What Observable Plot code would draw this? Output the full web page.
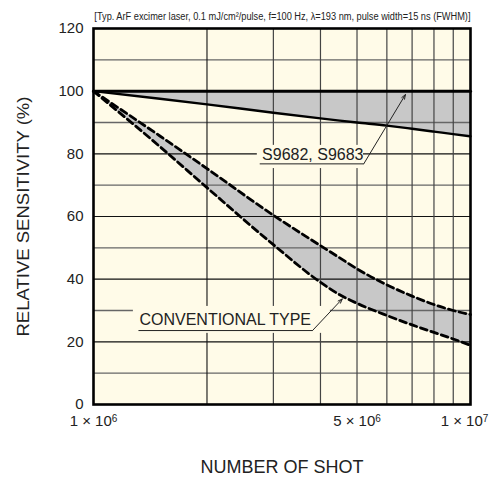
<!DOCTYPE html>
<html><head><meta charset="utf-8">
<script src="https://cdn.jsdelivr.net/npm/d3@7"></script>
<script src="https://cdn.jsdelivr.net/npm/@observablehq/plot@0.6"></script>
<style>body{margin:0;background:#fff;}</style>
</head><body><div id="chart"></div>
<script>
// ---- data ----
const shots     = [1e6, 1.5e6, 2e6, 3e6, 4e6, 4.5e6, 5e6, 6e6, 7e6, 8e6, 9e6, 1e7];
const s968Upper = [100, 100, 100, 100, 100, 100, 100, 100, 100, 100, 100, 100];
const s968Lower = [100, 97.6, 95.8, 93.1, 91.3, 90.6, 90.0, 89.0, 88.0, 87.1, 86.3, 85.6];
const convUpper = [100, 85.7, 75.3, 60.4, 50.7, 46.8, 43.3, 38.2, 34.6, 31.9, 30.0, 28.7];
const convLower = [100, 82.3, 69.2, 51.0, 39.0, 35.0, 32.3, 28.4, 25.4, 23.0, 20.9, 18.9];
const xTicks = [1e6, 5e6, 1e7];
const xTickLabels = ["1 × 10^6", "5 × 10^6", "1 × 10^7"];
const yTicks = [0, 20, 40, 60, 80, 100, 120];
const xGridMajor = [2e6];
const xGridMinor = [3e6, 4e6, 5e6, 6e6, 7e6, 8e6, 9e6];
const yGridMajor = [20, 40, 60, 80, 100];
const yGridMinor = [10, 30, 50, 70, 90, 110];
const titleText = "[Typ. ArF excimer laser, 0.1 mJ/cm²/pulse, f=100 Hz, λ=193 nm, pulse width=15 ns (FWHM)]";
const xLabel = "NUMBER OF SHOT";
const yLabel = "RELATIVE SENSITIVITY (%)";
// annotations (data coordinates)
const labelS = {text: "S9682, S9683", x: 2.8e6, y: 79.6, bx1: 2.72e6, bx2: 5.2e6, by1: 75.3, by2: 82.7,
  ux1: 2.76e6, ux2: 5.21e6, uy: 76.8, ax: 6.72e6, ay: 98.9};
const labelC = {text: "CONVENTIONAL TYPE", x: 1.324e6, y: 27.1, bx1: 1.276e6, bx2: 4.25e6, by1: 22.7, by2: 31.3,
  ux1: 1.316e6, ux2: 3.81e6, uy: 23.6, ax: 4.57e6, ay: 33.7};

const rows = shots.map((x, i) => ({x, su: s968Upper[i], sl: s968Lower[i], cu: convUpper[i], cl: convLower[i]}));
const labels = [labelS, labelC];
const cream = "#fffbe8";
const band = "#c8c8c8";
const font = "'Liberation Sans', Arial, Helvetica, sans-serif";
const tickMap = new Map(xTicks.map((t, i) => [t, xTickLabels[i]]));

const chart = Plot.plot({
  width: 492, height: 480,
  marginLeft: 93, marginRight: 22, marginTop: 28, marginBottom: 76,
  style: {fontFamily: font, background: "#fff", color: "#222"},
  x: {type: "log", domain: [1e6, 1e7], ticks: xTicks, tickFormat: d => tickMap.get(d), label: null},
  y: {domain: [0, 120], ticks: yTicks, label: null},
  marks: [
    Plot.frame({fill: cream, stroke: null}),
    Plot.areaY(rows, {x: "x", y1: "sl", y2: "su", fill: band, curve: "monotone-x"}),
    Plot.areaY(rows, {x: "x", y1: "cl", y2: "cu", fill: band, curve: "monotone-x"}),
    Plot.ruleY(yGridMinor, {stroke: "#666", strokeWidth: 1.3}),
    Plot.ruleY(yGridMajor, {stroke: "#111", strokeWidth: 1.1}),
    Plot.ruleX(xGridMinor, {stroke: "#444", strokeWidth: 1.2}),
    Plot.ruleX(xGridMajor, {stroke: "#111", strokeWidth: 1.1}),
    Plot.lineY(rows, {x: "x", y: "su", stroke: "#000", strokeWidth: 3}),
    Plot.lineY(rows, {x: "x", y: "sl", stroke: "#000", strokeWidth: 2.4, curve: "monotone-x"}),
    Plot.lineY(rows, {x: "x", y: "cu", stroke: "#000", strokeWidth: 2.8, strokeDasharray: "7,4", curve: "monotone-x"}),
    Plot.lineY(rows, {x: "x", y: "cl", stroke: "#000", strokeWidth: 2.8, strokeDasharray: "7,4", curve: "monotone-x"}),
    Plot.rect(labels, {x1: "bx1", x2: "bx2", y1: "by1", y2: "by2", fill: cream}),
    Plot.text(labels, {x: "x", y: "y", text: "text", textAnchor: "start", lineAnchor: "middle", fontSize: 16, fill: "#222"}),
    Plot.link(labels, {x1: "ux1", x2: "ux2", y1: "uy", y2: "uy", stroke: "#222", strokeWidth: 1}),
    Plot.arrow(labels, {x1: "ux2", y1: "uy", x2: "ax", y2: "ay", stroke: "#222", strokeWidth: 1, headLength: 7, headAngle: 40}),
    Plot.frame({stroke: "#000", strokeWidth: 2.6}),
    Plot.axisY({ticks: yTicks, tickSize: 0, tickPadding: 10, fontSize: 15, label: null}),
    Plot.axisX({ticks: xTicks, tickSize: 0, tickPadding: 11, fontSize: 15, label: null, tickFormat: d => tickMap.get(d)}),
    Plot.text([titleText], {frameAnchor: "top-right", dy: -12, textAnchor: "end", lineAnchor: "middle", fontSize: 11.5, fill: "#222"}),
    Plot.text([xLabel], {frameAnchor: "bottom", dy: 63, textAnchor: "middle", lineAnchor: "middle", fontSize: 18, fill: "#222"}),
    Plot.text([yLabel], {frameAnchor: "left", dx: -70, rotate: -90, textAnchor: "middle", lineAnchor: "middle", fontSize: 17, fill: "#222"})
  ]
});
document.getElementById("chart").appendChild(chart);

// horizontally scale a text element (about its anchor) so its width equals target
function fitWidth(node, target) {
  const L = node.getComputedTextLength();
  if (!L) return;
  const s = target / L;
  const ax = +node.getAttribute("x") || 0;
  const prev = node.getAttribute("transform") || "";
  node.setAttribute("transform", `${prev} translate(${ax},0) scale(${s},1) translate(${-ax},0)`);
}

d3.select(chart).selectAll("text").each(function() {
  const el = d3.select(this);
  const t = this.textContent;
  if (t.startsWith("[Typ.")) {
    fitWidth(this, 377);
  } else if (t === yLabel) {
    el.attr("textLength", 240).attr("lengthAdjust", "spacingAndGlyphs");
  } else if (t.includes("^") && this.children.length === 0) {
    const [base, exp] = t.split("^");
    el.text(null);
    el.append("tspan").text(base);
    el.append("tspan").attr("dy", "-0.45em").attr("font-size", "10px").text(exp);
    if (t === xTickLabels[xTickLabels.length - 1]) el.attr("dx", -6);
  }
});
</script>
</body></html>
